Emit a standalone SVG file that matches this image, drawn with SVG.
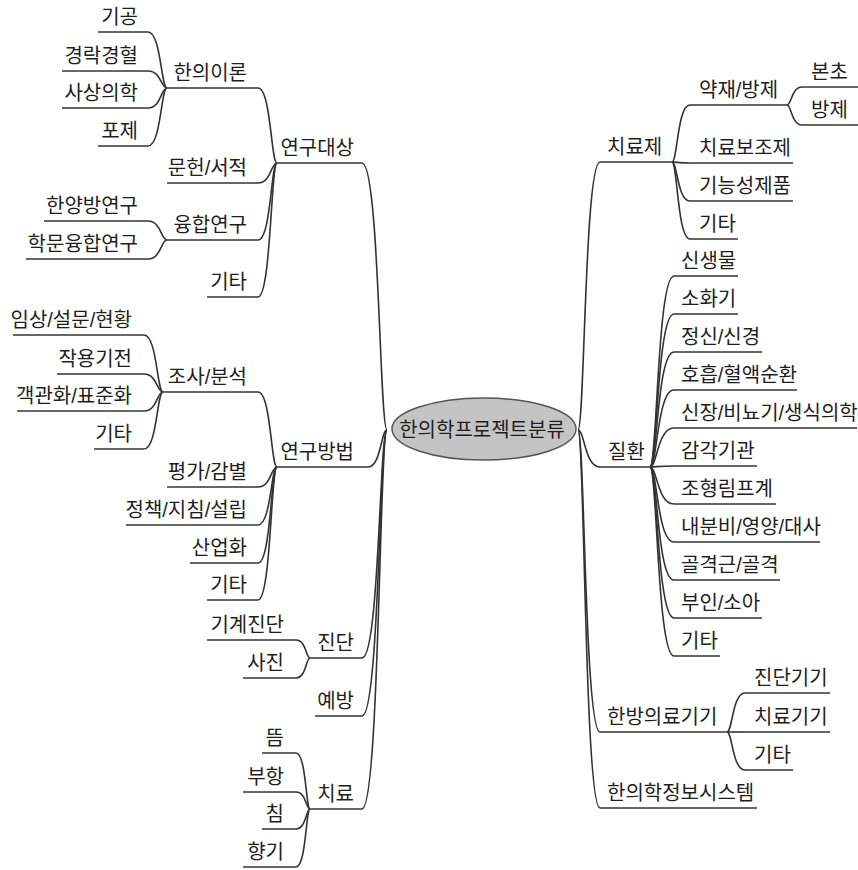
<svg xmlns="http://www.w3.org/2000/svg" width="858" height="870" viewBox="0 0 858 870">
<style>
text{font-family:"Liberation Sans","Noto Sans CJK KR",sans-serif;font-size:20px;fill:#1e1e1e}
.l text{text-anchor:end}
.u{stroke:#333;stroke-width:1.6;fill:none}
#connectors path{stroke:#333;stroke-width:1.6;fill:none}
</style>
<rect width="858" height="870" fill="#fff"/>
<g id="connectors">
<path d="M362,163 C379.5,163 379.5,430 387,430"/>
<path d="M368,467 C381,467 381,430 387,430"/>
<path d="M362,658 C379.5,658 379.5,430 387,430"/>
<path d="M362,716 C379.5,716 379.5,430 387,430"/>
<path d="M362,809 C379.5,809 379.5,430 387,430"/>
<path d="M258,88 C271,88 271,163 277,163"/>
<path d="M258,183 C271,183 271,163 277,163"/>
<path d="M258,240 C271,240 271,163 277,163"/>
<path d="M258,297 C271,297 271,163 277,163"/>
<path d="M258,392 C271,392 271,467 277,467"/>
<path d="M258,487 C271,487 271,467 277,467"/>
<path d="M258,525 C271,525 271,467 277,467"/>
<path d="M258,563 C271,563 271,467 277,467"/>
<path d="M258,600 C271,600 271,467 277,467"/>
<path d="M148,32 C161,32 161,88 167,88"/>
<path d="M148,71 C161,71 161,88 167,88"/>
<path d="M148,108 C161,108 161,88 167,88"/>
<path d="M148,146 C161,146 161,88 167,88"/>
<path d="M148,221 C161,221 161,240 167,240"/>
<path d="M148,259 C161,259 161,240 167,240"/>
<path d="M144,335 C157,335 157,392 163,392"/>
<path d="M144,374 C157,374 157,392 163,392"/>
<path d="M144,411 C157,411 157,392 163,392"/>
<path d="M144,449 C157,449 157,392 163,392"/>
<path d="M296,640 C306,640 306,658 310,658"/>
<path d="M296,678 C306,678 306,658 310,658"/>
<path d="M296,753 C306,753 306,809 310,809"/>
<path d="M296,792 C306,792 306,809 310,809"/>
<path d="M296,829 C306,829 306,809 310,809"/>
<path d="M296,867 C306,867 306,809 310,809"/>
<path d="M600,162 C584.6,162 584.6,430 578,430"/>
<path d="M600,467 C584.6,467 584.6,430 578,430"/>
<path d="M600,732 C584.6,732 584.6,430 578,430"/>
<path d="M600,808 C584.6,808 584.6,430 578,430"/>
<path d="M690,105 C677.4,105 677.4,162 672,162"/>
<path d="M690,163 C677.4,163 677.4,162 672,162"/>
<path d="M690,201 C677.4,201 677.4,162 672,162"/>
<path d="M690,239 C677.4,239 677.4,162 672,162"/>
<path d="M802,87 C791.5,87 791.5,105 787,105"/>
<path d="M802,125 C791.5,125 791.5,105 787,105"/>
<path d="M674,276 C657.2,276 657.2,467 650,467"/>
<path d="M674,314 C657.2,314 657.2,467 650,467"/>
<path d="M674,352 C657.2,352 657.2,467 650,467"/>
<path d="M674,390 C657.2,390 657.2,467 650,467"/>
<path d="M674,428 C657.2,428 657.2,467 650,467"/>
<path d="M674,466 C657.2,466 657.2,467 650,467"/>
<path d="M674,504 C657.2,504 657.2,467 650,467"/>
<path d="M674,542 C657.2,542 657.2,467 650,467"/>
<path d="M674,580 C657.2,580 657.2,467 650,467"/>
<path d="M674,618 C657.2,618 657.2,467 650,467"/>
<path d="M674,656 C657.2,656 657.2,467 650,467"/>
<path d="M745,693 C732.4,693 732.4,732 727,732"/>
<path d="M745,732 C732.4,732 732.4,732 727,732"/>
<path d="M745,770 C732.4,770 732.4,732 727,732"/>
</g>
<g id="root">
<ellipse cx="484" cy="429" rx="92" ry="31" fill="#c4c4c4" stroke="#555" stroke-width="1.5"/>
<text x="482" y="437" text-anchor="middle">한의학프로젝트분류</text>
</g>
<g class="l">
<g id="n-yeongudaesang"><line class="u" x1="277" y1="163" x2="362" y2="163"/><text x="354" y="155">연구대상</text></g>
<g id="n-yeongubangbeop"><line class="u" x1="277" y1="467" x2="368" y2="467"/><text x="354" y="459">연구방법</text></g>
<g id="n-jindan"><line class="u" x1="310" y1="658" x2="362" y2="658"/><text x="354" y="650">진단</text></g>
<g id="n-yebang"><line class="u" x1="315" y1="716" x2="362" y2="716"/><text x="354" y="708">예방</text></g>
<g id="n-chiryo"><line class="u" x1="310" y1="809" x2="362" y2="809"/><text x="354" y="801">치료</text></g>
<g id="n-hanuiiron"><line class="u" x1="167" y1="88" x2="258" y2="88"/><text x="247" y="80">한의이론</text></g>
<g id="n-munheon"><line class="u" x1="167" y1="183" x2="258" y2="183"/><text x="247" y="175">문헌/서적</text></g>
<g id="n-yunghap"><line class="u" x1="167" y1="240" x2="258" y2="240"/><text x="247" y="232">융합연구</text></g>
<g id="n-gita1"><line class="u" x1="207" y1="297" x2="258" y2="297"/><text x="247" y="289">기타</text></g>
<g id="n-gigong"><line class="u" x1="98" y1="32" x2="148" y2="32"/><text x="138" y="24">기공</text></g>
<g id="n-gyeongrak"><line class="u" x1="62" y1="71" x2="148" y2="71"/><text x="138" y="63">경락경혈</text></g>
<g id="n-sasang"><line class="u" x1="62" y1="108" x2="148" y2="108"/><text x="138" y="100">사상의학</text></g>
<g id="n-poje"><line class="u" x1="98" y1="146" x2="148" y2="146"/><text x="138" y="138">포제</text></g>
<g id="n-hanyang"><line class="u" x1="44" y1="221" x2="148" y2="221"/><text x="138" y="213">한양방연구</text></g>
<g id="n-hakmun"><line class="u" x1="26" y1="259" x2="148" y2="259"/><text x="138" y="251">학문융합연구</text></g>
<g id="n-josa"><line class="u" x1="163" y1="392" x2="258" y2="392"/><text x="247" y="384">조사/분석</text></g>
<g id="n-pyeongga"><line class="u" x1="167" y1="487" x2="258" y2="487"/><text x="247" y="479">평가/감별</text></g>
<g id="n-jeongchaek"><line class="u" x1="126" y1="525" x2="258" y2="525"/><text x="247" y="517">정책/지침/설립</text></g>
<g id="n-saneop"><line class="u" x1="190" y1="563" x2="258" y2="563"/><text x="247" y="555">산업화</text></g>
<g id="n-gita2"><line class="u" x1="207" y1="600" x2="258" y2="600"/><text x="247" y="592">기타</text></g>
<g id="n-imsang"><line class="u" x1="13" y1="335" x2="144" y2="335"/><text x="132" y="327">임상/설문/현황</text></g>
<g id="n-jakyong"><line class="u" x1="57" y1="374" x2="144" y2="374"/><text x="132" y="366">작용기전</text></g>
<g id="n-gaekgwan"><line class="u" x1="17" y1="411" x2="144" y2="411"/><text x="132" y="403">객관화/표준화</text></g>
<g id="n-gita3"><line class="u" x1="94" y1="449" x2="144" y2="449"/><text x="132" y="441">기타</text></g>
<g id="n-gigye"><line class="u" x1="207" y1="640" x2="296" y2="640"/><text x="284" y="632">기계진단</text></g>
<g id="n-sajin"><line class="u" x1="243" y1="678" x2="296" y2="678"/><text x="284" y="670">사진</text></g>
<g id="n-tteum"><line class="u" x1="262" y1="753" x2="296" y2="753"/><text x="284" y="745">뜸</text></g>
<g id="n-buhang"><line class="u" x1="243" y1="792" x2="296" y2="792"/><text x="284" y="784">부항</text></g>
<g id="n-chim"><line class="u" x1="262" y1="829" x2="296" y2="829"/><text x="284" y="821">침</text></g>
<g id="n-hyanggi"><line class="u" x1="243" y1="867" x2="296" y2="867"/><text x="284" y="859">향기</text></g>
</g>
<g class="r">
<g id="n-chiryoje"><line class="u" x1="600" y1="162" x2="672" y2="162"/><text x="607" y="154">치료제</text></g>
<g id="n-jilhwan"><line class="u" x1="600" y1="467" x2="650" y2="467"/><text x="608" y="459">질환</text></g>
<g id="n-uiryogigi"><line class="u" x1="600" y1="732" x2="727" y2="732"/><text x="607" y="724">한방의료기기</text></g>
<g id="n-jeongbo"><line class="u" x1="600" y1="808" x2="757" y2="808"/><text x="607" y="800">한의학정보시스템</text></g>
<g id="n-yakjae"><line class="u" x1="690" y1="105" x2="787" y2="105"/><text x="699" y="97">약재/방제</text></g>
<g id="n-bojo"><line class="u" x1="690" y1="163" x2="793" y2="163"/><text x="699" y="155">치료보조제</text></g>
<g id="n-gineung"><line class="u" x1="690" y1="201" x2="793" y2="201"/><text x="699" y="193">기능성제품</text></g>
<g id="n-gita4"><line class="u" x1="690" y1="239" x2="738" y2="239"/><text x="699" y="231">기타</text></g>
<g id="n-boncho"><line class="u" x1="802" y1="87" x2="858" y2="87"/><text x="811" y="79">본초</text></g>
<g id="n-bangje"><line class="u" x1="802" y1="125" x2="858" y2="125"/><text x="811" y="117">방제</text></g>
<g id="n-sinsaeng"><line class="u" x1="674" y1="276" x2="738" y2="276"/><text x="681" y="268">신생물</text></g>
<g id="n-sohwa"><line class="u" x1="674" y1="314" x2="738" y2="314"/><text x="681" y="306">소화기</text></g>
<g id="n-jeongsin"><line class="u" x1="674" y1="352" x2="762" y2="352"/><text x="681" y="344">정신/신경</text></g>
<g id="n-hoheup"><line class="u" x1="674" y1="390" x2="797" y2="390"/><text x="681" y="382">호흡/혈액순환</text></g>
<g id="n-sinjang"><line class="u" x1="674" y1="428" x2="857" y2="428"/><text x="681" y="420">신장/비뇨기/생식의학</text></g>
<g id="n-gamgak"><line class="u" x1="674" y1="466" x2="757" y2="466"/><text x="681" y="458">감각기관</text></g>
<g id="n-johyeong"><line class="u" x1="674" y1="504" x2="776" y2="504"/><text x="681" y="496">조형림프계</text></g>
<g id="n-naebunbi"><line class="u" x1="674" y1="542" x2="820" y2="542"/><text x="681" y="534">내분비/영양/대사</text></g>
<g id="n-golgyeok"><line class="u" x1="674" y1="580" x2="780" y2="580"/><text x="681" y="572">골격근/골격</text></g>
<g id="n-buin"><line class="u" x1="674" y1="618" x2="762" y2="618"/><text x="681" y="610">부인/소아</text></g>
<g id="n-gita5"><line class="u" x1="674" y1="656" x2="720" y2="656"/><text x="681" y="648">기타</text></g>
<g id="n-jindangigi"><line class="u" x1="745" y1="693" x2="830" y2="693"/><text x="754" y="685">진단기기</text></g>
<g id="n-chiryogigi"><line class="u" x1="745" y1="732" x2="830" y2="732"/><text x="754" y="724">치료기기</text></g>
<g id="n-gita6"><line class="u" x1="745" y1="770" x2="793" y2="770"/><text x="754" y="762">기타</text></g>
</g>
</svg>
